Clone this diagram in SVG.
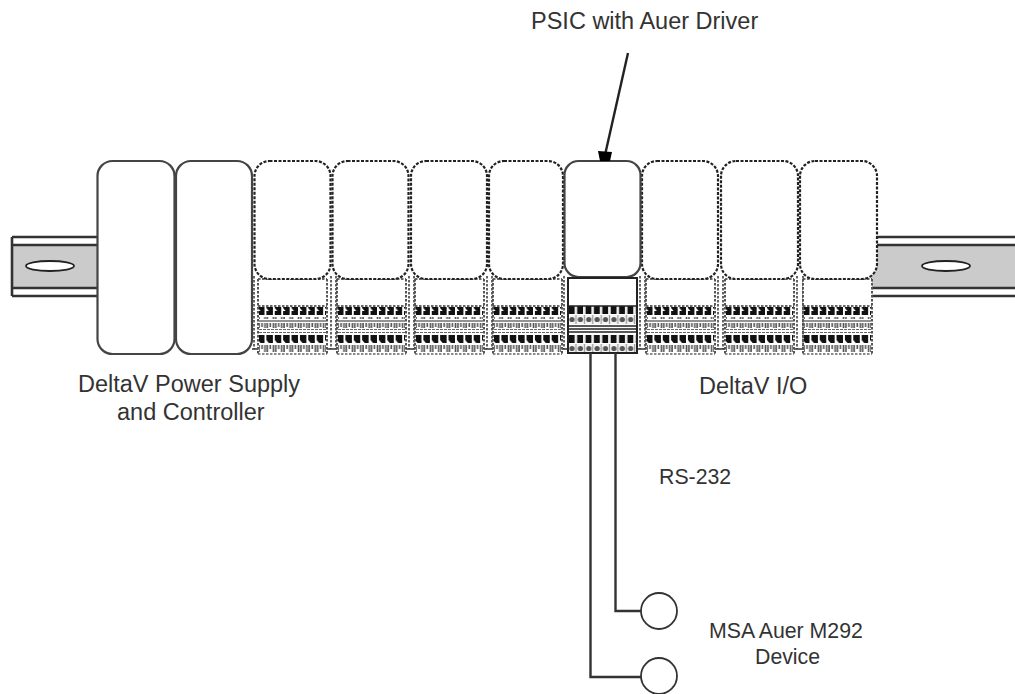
<svg xmlns="http://www.w3.org/2000/svg" xmlns:xlink="http://www.w3.org/1999/xlink" width="1015" height="694" viewBox="0 0 1015 694">
<style>
text{font-family:"Liberation Sans",Arial,sans-serif;font-size:23.5px;fill:#333}
text.sm{font-size:21.3px}
.solid{fill:#fff;stroke:#444;stroke-width:2.200}
.dash{fill:#fff;stroke:#222;stroke-width:2.200;stroke-dasharray:3 1.500}
.wire{fill:none;stroke:#333;stroke-width:2.400}
.rl{stroke:#333;stroke-width:2.600;fill:none}
</style>
<defs>
<pattern id="dk" patternUnits="userSpaceOnUse" width="8.380" height="8"><path d="M0 0H6.500V8H2.500L0 5z" fill="#111"/></pattern>
<pattern id="lt" patternUnits="userSpaceOnUse" width="8.380" height="11"><path d="M1 0V7M4 0V4M7 0V7" stroke="#555" stroke-width="1.600"/><path d="M0 9H8.380" stroke="#777" stroke-width="1.600"/></pattern>
<pattern id="dks" patternUnits="userSpaceOnUse" width="8.380" height="8"><rect width="8.380" height="8" fill="#111"/><rect x="5.600" width="2.600" height="8" fill="#eee"/></pattern>
<pattern id="lts" patternUnits="userSpaceOnUse" width="8.380" height="9"><rect width="8.380" height="9" fill="#f4f4f4"/><circle cx="3" cy="4.500" r="2.600" fill="#555"/><rect x="6.400" width="1.200" height="9" fill="#999"/></pattern>
<g id="termD">
<rect x="0" y="0" width="69" height="27" fill="#fff"/>
<path d="M0 0H69M0 27H69" stroke="#333" stroke-width="1.500" stroke-dasharray="2.500 1.500"/>
<rect x="1" y="28" width="67" height="8" fill="url(#dk)"/>
<rect x="1" y="38" width="67" height="11" fill="url(#lt)"/>
<path d="M1 50.500H68M1 53.500H68" stroke="#666" stroke-width="1.200" stroke-dasharray="3 1"/>
<rect x="1" y="56" width="67" height="8" fill="url(#dk)"/>
<rect x="1" y="66" width="67" height="8" fill="url(#lt)"/>
<path d="M0 0V75M69 0V75" stroke="#555" stroke-width="2" stroke-dasharray="2.500 1.500"/>
<path d="M0 75H69" stroke="#666" stroke-width="1.500" stroke-dasharray="2.500 1.500"/>
</g>
</defs>
<g id="rail-left">
<rect x="12" y="245" width="85" height="43" fill="#cbcbcb"/>
<path class="rl" d="M12 237H97M12 245H97M12 288H97M12 296H97M12 237V296"/>
<ellipse cx="50" cy="266" rx="24" ry="5" fill="#fff" stroke="#222" stroke-width="1.800"/>
</g>
<g id="rail-right">
<rect x="871" y="245" width="144" height="43" fill="#cbcbcb"/>
<path class="rl" d="M877 237H1015M877 245H1015M871 288H1015M871 296H1015"/>
<ellipse cx="946" cy="266" rx="24" ry="5" fill="#fff" stroke="#222" stroke-width="1.800"/>
</g>
<g id="controller-modules">
<rect x="97.500" y="161" width="77" height="193" rx="15" class="solid"/>
<rect x="176" y="161" width="76" height="193" rx="15" class="solid"/>
</g>
<g id="io-bases">
<path d="M254 276V349M331 276V349M336 276V349M409 276V349M414 276V349M487 276V349M492 276V349M564 276V349M640 276V349M645 276V349M718 276V349M723 276V349M797 276V349M803 276V349" fill="none" stroke="#555" stroke-width="1.800" stroke-dasharray="2.500 1.500"/>
<path d="M252 349H258M327 349H337M406 349H415M484 349H493M562 349H568M637 349H646M715 349H725M794 349H804" stroke="#333" stroke-width="1.500"/>
<use xlink:href="#termD" href="#termD" x="258" y="279"/>
<use xlink:href="#termD" href="#termD" x="337" y="279"/>
<use xlink:href="#termD" href="#termD" x="415" y="279"/>
<use xlink:href="#termD" href="#termD" x="493" y="279"/>
<use xlink:href="#termD" href="#termD" x="646" y="279"/>
<use xlink:href="#termD" href="#termD" x="725" y="279"/>
<use xlink:href="#termD" href="#termD" x="803" y="279"/>
</g>
<g id="io-modules">
<rect x="254.500" y="161" width="76" height="118" rx="15" class="dash"/>
<rect x="332.500" y="161" width="76" height="118" rx="15" class="dash"/>
<rect x="411" y="161" width="76" height="118" rx="15" class="dash"/>
<rect x="489" y="161" width="74" height="118" rx="15" class="dash"/>
<rect x="642" y="161" width="76" height="118" rx="15" class="dash"/>
<rect x="721" y="161" width="77" height="118" rx="15" class="dash"/>
<rect x="800" y="161" width="77" height="118" rx="15" class="dash"/>
</g>
<g id="psic-module">
<rect x="564.500" y="161" width="76" height="116" rx="14" class="solid"/>
<rect x="568" y="278" width="69" height="75" fill="#fff" stroke="#222" stroke-width="2"/>
<g transform="translate(569 306)">
<rect width="67" height="8" fill="url(#dks)"/>
<g transform="translate(0 9)"><rect width="67" height="9" fill="url(#lts)"/></g>
</g>
<path d="M568 306H637M568 326H637M568 329H637M568 332H637" stroke="#222" stroke-width="1.300"/>
<g transform="translate(569 335)">
<rect width="67" height="8" fill="url(#dks)"/>
<g transform="translate(0 9)"><rect width="67" height="8" fill="url(#lts)"/></g>
</g>
</g>
<g id="connectors">
<path class="wire" d="M590.500 353V677H642"/>
<path class="wire" d="M615.500 353V611H642"/>
<path d="M628 53L605 155" fill="none" stroke="#222" stroke-width="2.400"/>
<path d="M598 151L612 152L610 161L600 161z" fill="#000"/>
</g>
<g id="device-1"><circle cx="659" cy="611" r="18" fill="#fff" stroke="#333" stroke-width="1.800"/></g>
<g id="device-2"><circle cx="659" cy="676" r="18" fill="#fff" stroke="#333" stroke-width="1.800"/></g>
<g id="labels">
<text x="531" y="29">PSIC with Auer Driver</text>
<text x="78" y="392">DeltaV Power Supply</text>
<text x="117" y="420">and Controller</text>
<text x="699" y="394">DeltaV I/O</text>
<text class="sm" x="659" y="484">RS-232</text>
<text class="sm" x="709" y="638">MSA Auer M292</text>
<text class="sm" x="755" y="664">Device</text>
</g>
</svg>
